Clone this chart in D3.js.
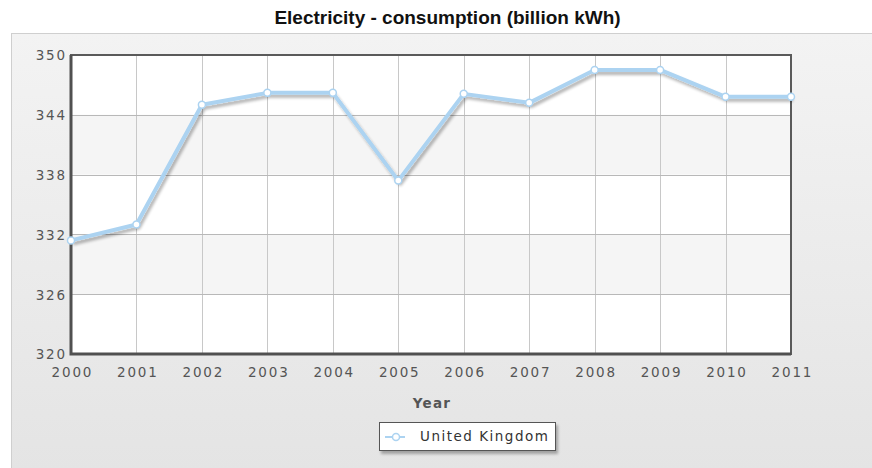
<!DOCTYPE html>
<html><head><meta charset="utf-8">
<script src="https://cdn.jsdelivr.net/npm/d3@7"></script>
<style>body{margin:0;background:#fff;}svg{display:block;}</style>
</head><body>
<svg id="chart" width="872" height="468"></svg>
<script>
const years = [2000,2001,2002,2003,2004,2005,2006,2007,2008,2009,2010,2011];
const consumption = [331.4,333.0,345.0,346.2,346.2,337.4,346.1,345.2,348.5,348.5,345.8,345.8];
const yTicks = [320,326,332,338,344,350];
const seriesName = "United Kingdom";
const titleText = "Electricity - consumption (billion kWh)";
const xTitle = "Year";

const svg = d3.select("#chart");
const W = 872, H = 468;
const m = {left:71, top:55, right:791, bottom:354};

const defs = svg.append("defs");
const bg = defs.append("linearGradient").attr("id","bgGrad").attr("x1",0).attr("y1",0).attr("x2",0).attr("y2",1);
bg.append("stop").attr("offset","0%").attr("stop-color","#f3f3f3");
bg.append("stop").attr("offset","100%").attr("stop-color","#e3e3e3");
const sh = defs.append("filter").attr("id","shadow").attr("x","-10%").attr("y","-10%").attr("width","120%").attr("height","140%");
sh.append("feGaussianBlur").attr("in","SourceAlpha").attr("stdDeviation",1.5).attr("result","b");
sh.append("feOffset").attr("dx",1.5).attr("dy",2.5).attr("result","o");
sh.append("feComponentTransfer").append("feFuncA").attr("type","linear").attr("slope",0.3);
const mg = sh.append("feMerge"); mg.append("feMergeNode"); mg.append("feMergeNode").attr("in","SourceGraphic");

// panel
svg.append("rect").attr("x",11.5).attr("y",33.5).attr("width",W).attr("height",H)
  .attr("fill","url(#bgGrad)").attr("stroke","#cfcfcf");

svg.append("text").attr("x",447.5).attr("y",24).attr("text-anchor","middle")
  .attr("font-family","Liberation Sans, Arial, sans-serif").attr("font-weight","bold")
  .attr("font-size",19).attr("fill","#111").text(titleText);

const x = d3.scaleLinear().domain([years[0], years[years.length-1]]).range([m.left, m.right]);
const y = d3.scaleLinear().domain([yTicks[0], yTicks[yTicks.length-1]]).range([m.bottom, m.top]);

// plot bg + bands
svg.append("rect").attr("x",m.left).attr("y",m.top).attr("width",m.right-m.left).attr("height",m.bottom-m.top).attr("fill","#fff");
const bands = [];
for (let i=0;i<yTicks.length-1;i++) bands.push([yTicks[i],yTicks[i+1],i]);
svg.selectAll("rect.band").data(bands.filter(b=>b[2]%2===1)).join("rect").attr("class","band")
  .attr("x",m.left).attr("width",m.right-m.left)
  .attr("y",d=>y(d[1])).attr("height",d=>y(d[0])-y(d[1])).attr("fill","#f5f5f5");

// grid
svg.append("g").selectAll("line").data(years).join("line")
  .attr("x1",d=>Math.round(x(d))+0.5).attr("x2",d=>Math.round(x(d))+0.5)
  .attr("y1",m.top).attr("y2",m.bottom).attr("stroke","#c8c8c8");
svg.append("g").selectAll("line").data(yTicks).join("line")
  .attr("y1",d=>Math.round(y(d))+0.5).attr("y2",d=>Math.round(y(d))+0.5)
  .attr("x1",m.left).attr("x2",m.right).attr("stroke","#b8b8b8");

// frame
svg.append("rect").attr("x",m.left).attr("y",m.top).attr("width",m.right-m.left).attr("height",m.bottom-m.top)
  .attr("fill","none").attr("stroke","#5a5a5a").attr("stroke-width",2);
svg.append("path").attr("d",`M${m.left},${m.top}V${m.bottom}H${m.right}`)
  .attr("fill","none").attr("stroke","#505050").attr("stroke-width",3);

// axes
const axisFont = "DejaVu Sans, Verdana, sans-serif";
const LS = 1.8;
const yAxis = svg.append("g").attr("transform",`translate(${65+LS},0)`)
  .call(d3.axisLeft(y).tickValues(yTicks).tickSize(0).tickPadding(0).tickFormat(d3.format("d")));
yAxis.select(".domain").remove();
yAxis.selectAll("text").attr("font-family",axisFont).attr("font-size",13.5).attr("letter-spacing",LS)
  .attr("fill","#555").attr("dy","0.36em");

const xAxis = svg.append("g").attr("transform",`translate(${LS/2},377)`)
  .call(d3.axisBottom(x).tickValues(years).tickSize(0).tickPadding(0).tickFormat(d3.format("d")));
xAxis.select(".domain").remove();
xAxis.selectAll("text").attr("font-family",axisFont).attr("font-size",13.5).attr("letter-spacing",LS)
  .attr("fill","#555").attr("dy",0).attr("y",0);

svg.append("text").attr("x",432).attr("y",408).attr("text-anchor","middle")
  .attr("font-family",axisFont).attr("font-weight","bold").attr("font-size",13.5).attr("letter-spacing",1.3)
  .attr("fill","#555").text(xTitle);

// series
const data = years.map((yr,i)=>({yr, v:consumption[i]}));
const lineGen = d3.line().x(d=>x(d.yr)).y(d=>y(d.v));
const sg = svg.append("g").attr("filter","url(#shadow)");
sg.append("path").datum(data).attr("d",lineGen).attr("fill","none")
  .attr("stroke","#acd3f1").attr("stroke-width",4).attr("stroke-linejoin","round");
svg.append("g").selectAll("circle").data(data).join("circle")
  .attr("cx",d=>x(d.yr)).attr("cy",d=>y(d.v)).attr("r",3.5)
  .attr("fill","#fff").attr("stroke","#acd3f1").attr("stroke-width",1.5);

// legend
const lg = svg.append("g").attr("transform","translate(379,422)");
lg.append("rect").attr("x",0.5).attr("y",0.5).attr("width",176).attr("height",28)
  .attr("fill","#fff").attr("stroke","#555").attr("filter","url(#shadow)");
lg.append("line").attr("x1",6).attr("x2",26).attr("y1",15).attr("y2",15).attr("stroke","#acd3f1").attr("stroke-width",2);
lg.append("circle").attr("cx",17).attr("cy",15).attr("r",3.5).attr("fill","#fff").attr("stroke","#acd3f1").attr("stroke-width",1.5);
lg.append("text").attr("x",41).attr("y",19).attr("font-family",axisFont).attr("font-size",13.5).attr("letter-spacing",1.5)
  .attr("fill","#333").text(seriesName);
</script>
</body></html>
